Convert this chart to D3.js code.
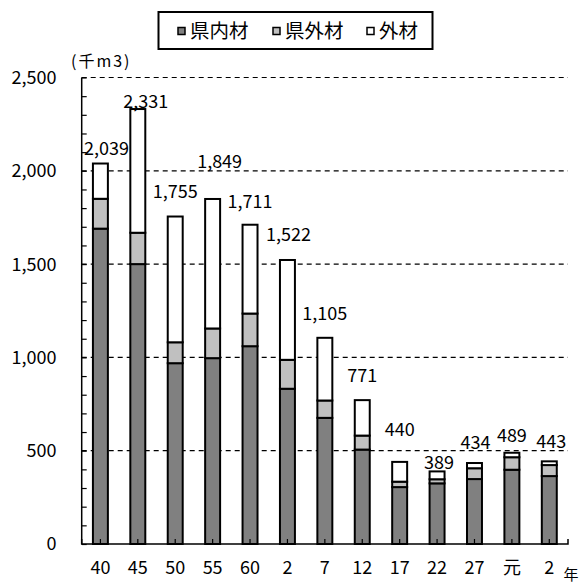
<!DOCTYPE html>
<html><head><meta charset="utf-8">
<script src="https://cdn.jsdelivr.net/npm/d3@7"></script>
<style>
html,body{margin:0;padding:0;background:#fff;}
svg{display:block;}
text{font-family:"Noto Sans CJK JP","Noto Sans",sans-serif;fill:#000;}
</style></head>
<body>
<svg id="chart" width="584" height="583"></svg>
<script>
(function(){
// ---- data ----
const categories = ["40","45","50","55","60","2","7","12","17","22","27","元","2"];
const seriesNames = ["県内材","県外材","外材"];
const inPref   = [1690,1500,969,996,1060,832,676,506,305,325,348,398,364];
const outPref  = [160,168,112,159,175,155,93,75,29,22,58,67,59];
const foreign  = [189,663,674,694,476,535,336,190,106,42,28,24,20];
const totals   = [2039,2331,1755,1849,1711,1522,1105,771,440,389,434,489,443];
const yTicks   = [0,500,1000,1500,2000,2500];
// ---- layout for value labels (label anchor in data units, x nudge in px) ----
const labelAt  = [2121,2370,1888,2049,1834,1656,1236,905,613,436,546,584,548];
const labelDx  = [6,8,0,7,0,1,0,0,0,2,1,0,2];

const colors = ["#808080","#c0c0c0","#ffffff"];
const svg = d3.select("#chart");
const pLeft = 81.7, pRight = 568, pTop = 77.5, pBottom = 544;

const x = d3.scaleBand().domain(d3.range(categories.length)).range([pLeft, pRight])
  .paddingInner(0.6).paddingOuter(0.3);
const y = d3.scaleLinear().domain([0, 2500]).range([pBottom, pTop]);

// gridlines
svg.append("g").selectAll("line").data(yTicks.filter(d => d > 0)).join("line")
  .attr("x1", pLeft).attr("x2", pRight)
  .attr("y1", d => y(d)).attr("y2", d => y(d))
  .attr("stroke", "#000").attr("stroke-width", 1.2).attr("stroke-dasharray", "5,4");

// stacked bars
const rows = categories.map((c, i) => ({i, a: inPref[i], b: outPref[i], c: foreign[i]}));
const stack = d3.stack().keys(["a","b","c"])(rows);
svg.append("g").selectAll("g").data(stack).join("g")
  .attr("fill", (d, k) => colors[k])
  .selectAll("rect").data(d => d).join("rect")
  .attr("x", d => x(d.data.i)).attr("width", x.bandwidth())
  .attr("y", d => y(d[1])).attr("height", d => y(d[0]) - y(d[1]))
  .attr("stroke", "#000").attr("stroke-width", 2);

// y axis
const yAxis = d3.axisRight(y).tickValues(d3.range(0, 2501, 100)).tickSize(5).tickFormat("");
const ya = svg.append("g").attr("transform", `translate(${pLeft},0)`).call(yAxis);
ya.select(".domain").attr("stroke-width", 1.5).attr("d", `M0,${pTop}V${pBottom}`);
ya.selectAll(".tick line").attr("stroke-width", 1.2);
svg.append("g").selectAll("text").data(yTicks).join("text")
  .attr("x", 56.5).attr("y", d => y(d)).attr("dy", "0.36em")
  .attr("text-anchor", "end").attr("font-size", 18).text(d3.format(","));

// x axis
const xAxis = d3.axisTop(x).tickSize(5).tickFormat("");
const xa = svg.append("g").attr("transform", `translate(0,${pBottom})`).call(xAxis);
xa.select(".domain").attr("stroke-width", 1.5).attr("d", `M${pLeft},-5V0H${pRight}V-5`);
xa.selectAll(".tick line").attr("stroke-width", 1.2);
svg.append("g").selectAll("text").data(categories).join("text")
  .attr("x", (d, i) => x(i) + x.bandwidth() / 2).attr("y", 567.5).attr("dy", "0.36em")
  .attr("text-anchor", "middle").attr("font-size", 18).text(d => d);
svg.append("text").attr("x", 571).attr("y", 574.5).attr("dy", "0.36em")
  .attr("text-anchor", "middle").attr("font-size", 15).text("年");

// unit
svg.append("text").attr("x", 71).attr("y", 61.7).attr("dy", "0.36em")
  .attr("font-size", 16).attr("letter-spacing", 2).text("(千m3)");

// value labels
svg.append("g").selectAll("text").data(totals).join("text")
  .attr("x", (d, i) => x(i) + x.bandwidth() / 2 + labelDx[i])
  .attr("y", (d, i) => y(labelAt[i])).attr("dy", "0.36em")
  .attr("text-anchor", "middle").attr("font-size", 18).text(d3.format(","));

// legend
const lg = svg.append("g");
lg.append("rect").attr("x", 158.5).attr("y", 12).attr("width", 274).attr("height", 37)
  .attr("fill", "#fff").attr("stroke", "#000").attr("stroke-width", 2);
const legX = [178, 273, 367];
seriesNames.forEach((n, k) => {
  lg.append("rect").attr("x", legX[k]).attr("y", 27.5).attr("width", 7).attr("height", 7)
    .attr("fill", colors[k]).attr("stroke", "#000").attr("stroke-width", 1.5);
  lg.append("text").attr("x", legX[k] + 12).attr("y", 31).attr("dy", "0.36em")
    .attr("font-size", 19.5).text(n);
});
})();
</script>
</body></html>
